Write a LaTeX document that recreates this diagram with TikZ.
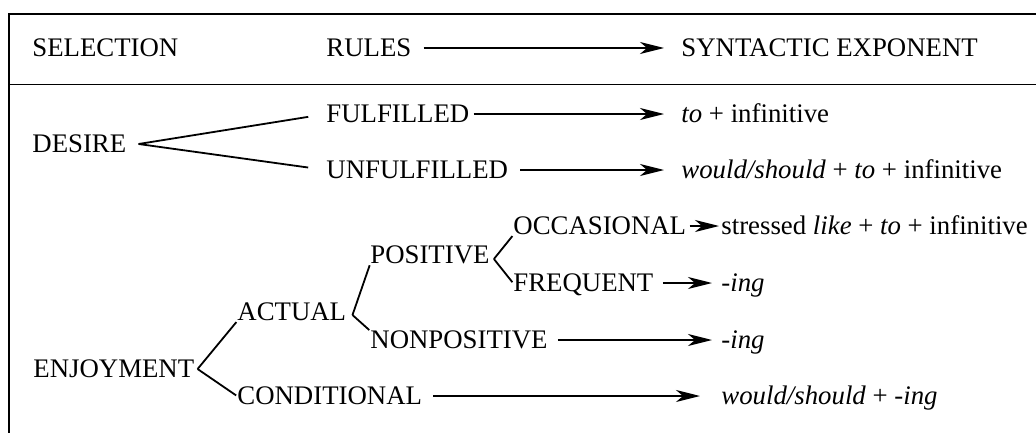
\documentclass[tikz,border=0pt]{standalone}
\usepackage{fontspec}
\setmainfont{Liberation Serif}
\usetikzlibrary{arrows.meta}
\tikzstyle{entry}=[anchor=west, inner sep=0pt, text height=8.9pt, text depth=0pt]
\tikzstyle{branch}=[line width=0.9pt, shorten >=0.5pt]
\tikzstyle{rulearrow}=[-{Stealth[length=12pt, width=6pt, inset=3.5pt]}, line width=0.9pt]

\begin{document}
\begin{tikzpicture}[x=0.5pt, y=-0.5pt, font=\fontsize{13.4}{16}\selectfont]
  \useasboundingbox (0,0) rectangle (1036,433);
  % frame of the table
  \draw[line width=1pt] (8,14) -- (1036,14);
  \draw[line width=0.8pt] (9,14) -- (9,433);
  \draw[line width=0.5pt] (9,85) -- (1036,85);

  % header
  \node[entry] (selection) at (32,48) {SELECTION};
  \node[entry] (rules) at (326,48) {RULES};
  \node[entry] (exponent) at (681,48) {SYNTACTIC EXPONENT};

  % desire
  \node[entry] (desire) at (32,144) {DESIRE};
  \node[entry] (fulfilled) at (326,114) {FULFILLED};
  \node[entry] (unfulfilled) at (326,170) {UNFULFILLED};
  \node[entry] (toinf) at (681,114) {\textit{to} + infinitive};
  \node[entry] (wouldto) at (681,170) {\textit{would/should} + \textit{to} + infinitive};

  % enjoyment
  \node[entry] (enjoy) at (33,369) {ENJOYMENT};
  \node[entry] (actual) at (237,312) {ACTUAL};
  \node[entry] (cond) at (237,396) {CONDITIONAL};
  \node[entry] (pos) at (370,255) {POSITIVE};
  \node[entry] (nonpos) at (370,340) {NONPOSITIVE};
  \node[entry] (occ) at (513,226) {OCCASIONAL};
  \node[entry] (freq) at (513,283) {FREQUENT};
  \node[entry] (stressed) at (721,226) {stressed \textit{like} + \textit{to} + infinitive};
  \node[entry] (ingfreq) at (721,283) {\textit{-ing}};
  \node[entry] (ingnon) at (721,340) {\textit{-ing}};
  \node[entry] (wouldcond) at (721,396) {\textit{would/should} + \textit{-ing}};

  \path ([xshift=6pt]desire.east) edge [branch, shorten >=9pt] (fulfilled.west)
        ([xshift=6pt]desire.east) edge [branch, shorten >=9pt] (unfulfilled.west)
        ([xshift=1.5pt]enjoy.east) edge [branch] (actual.south west)
        ([xshift=1.5pt]enjoy.east) edge [branch] (cond.west)
        ([xshift=3pt,yshift=-1.5pt]actual.east) edge [branch] (pos.south west)
        ([xshift=3pt,yshift=-1.5pt]actual.east) edge [branch] (nonpos.north west)
        ([xshift=2pt,yshift=-2pt]pos.east) edge [branch] (occ.south west)
        ([xshift=2pt,yshift=-2pt]pos.east) edge [branch] (freq.west);

  \path (rules) edge [rulearrow, shorten <=6pt, shorten >=8.5pt] (exponent)
        (fulfilled) edge [rulearrow, shorten <=2pt, shorten >=8.5pt] (toinf)
        (unfulfilled) edge [rulearrow, shorten <=6pt, shorten >=8.5pt] (wouldto)
        (occ) edge [rulearrow, shorten <=1.5pt, shorten >=1pt] (stressed)
        (freq) edge [rulearrow, shorten <=4.5pt, shorten >=4.5pt] (ingfreq)
        (nonpos) edge [rulearrow, shorten <=5pt, shorten >=4.5pt] (ingnon)
        (cond) edge [rulearrow, shorten <=5.5pt, shorten >=10.5pt] (wouldcond);
\end{tikzpicture}
\end{document}
